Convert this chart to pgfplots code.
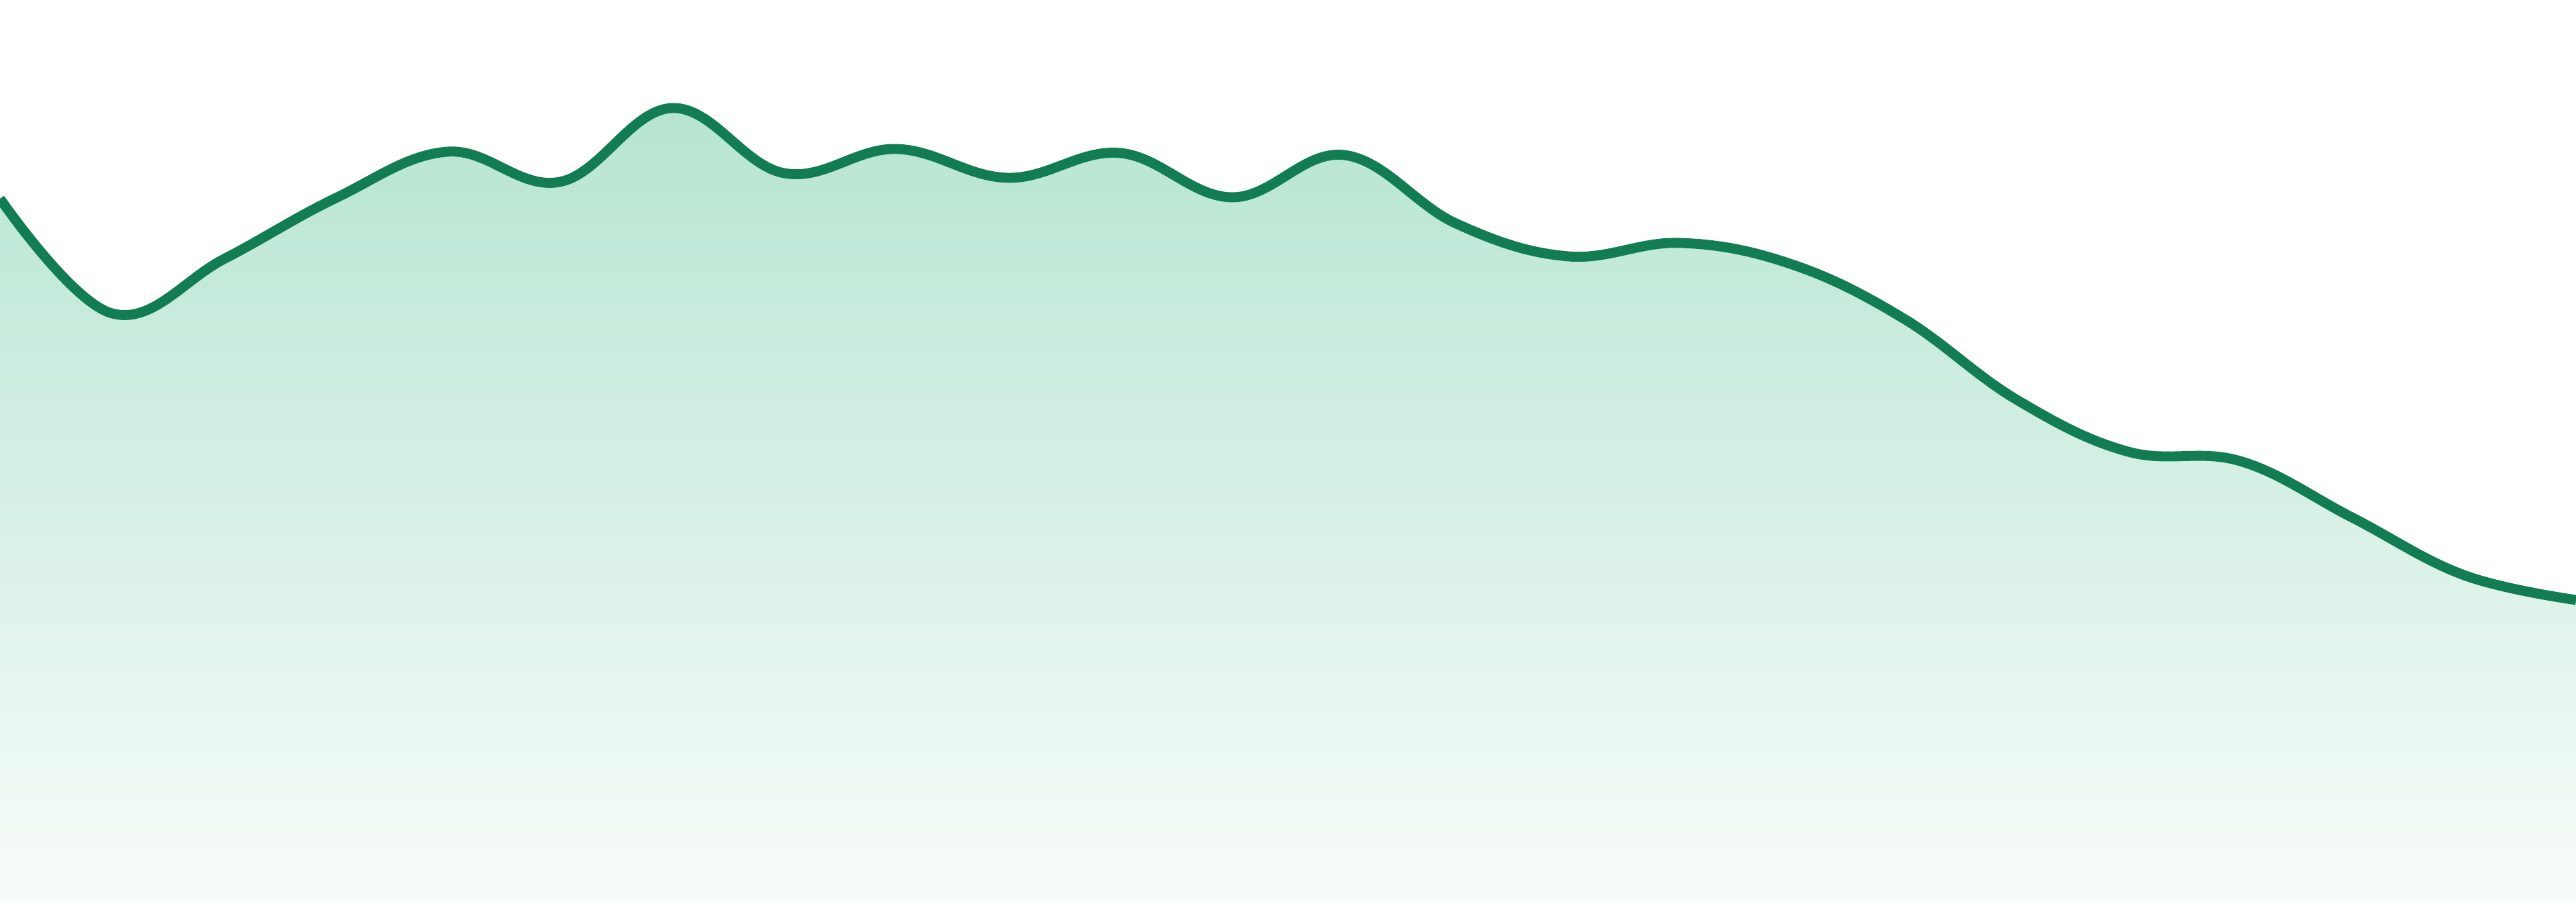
\documentclass[border=0pt]{standalone}
\usepackage{pgfplots}
\usepackage{pgfplotstable}
\pgfplotsset{compat=1.18}

\definecolor{lineGreen}{RGB}{18,124,82}
\definecolor{fillTop}{RGB}{182,229,209}
\definecolor{fillBottom}{RGB}{248,252,250}

% values in image pixels, measured from the bottom edge
\pgfplotstableread{
x  y
0  1048
1  877
2  958
3  1049
4  1118
5  1073
6  1183
7  1086
8  1122
9  1079
10 1116
11 1050
12 1113
13 1011
14 962
15 982
16 950
17 869
18 749
19 671
20 657
21 573
22 487
23 450
}\series

\begin{document}
\begin{tikzpicture}
  \begin{axis}[
    width=20cm, height=7cm,
    scale only axis,
    xmin=0, xmax=23,
    ymin=0, ymax=1344,
    axis line style={draw=none},
    ticks=none,
    clip=true
    ]

    \addplot[draw=none, top color=fillTop, bottom color=fillBottom, smooth, tension=0.65]
      table[x=x, y=y] {\series} \closedcycle;

    \addplot[lineGreen, line width=2.2pt, smooth, tension=0.65]
      table[x=x, y=y] {\series};
  \end{axis}
\end{tikzpicture}
\end{document}
